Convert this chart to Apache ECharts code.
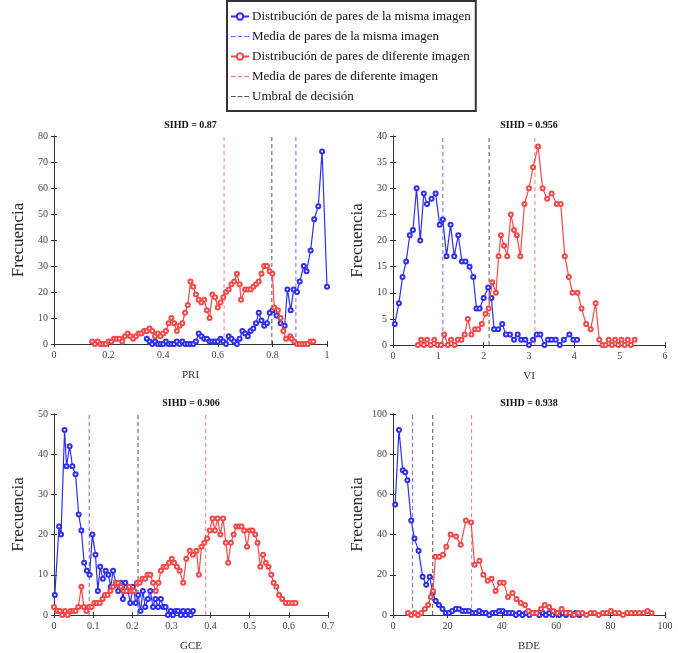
<!DOCTYPE html>
<html>
<head>
<meta charset="utf-8">
<script src="https://cdn.jsdelivr.net/npm/echarts@6/dist/echarts.min.js"></script>
<style>html,body{margin:0;padding:0;background:#fff;}#c{width:678px;height:653px;}</style>
</head>
<body>
<div id="c"></div>
<script>
// ---------- DATA ----------
const seriesNames = ['Distribución de pares de la misma imagen','Media de pares de la misma imagen','Distribución de pares de diferente imagen','Media de pares de diferente imagen','Umbral de decisión'];
const plotTitles = ['SIHD = 0.87','SIHD = 0.956','SIHD = 0.906','SIHD = 0.938'];
const xNames = ['PRI','VI','GCE','BDE'];

const priXTicks = [0,0.2,0.4,0.6,0.8,1];
const priYTicks = [0,10,20,30,40,50,60,70,80];
const viXTicks = [0,1,2,3,4,5,6];
const viYTicks = [0,5,10,15,20,25,30,35,40];
const gceXTicks = [0,0.1,0.2,0.3,0.4,0.5,0.6,0.7];
const gceYTicks = [0,10,20,30,40,50];
const bdeXTicks = [0,20,40,60,80,100];
const bdeYTicks = [0,20,40,60,80,100];

// means & thresholds [same mean, diff mean, threshold]
const priLines = [0.886, 0.623, 0.798];
const viLines = [1.10, 3.13, 2.12];
const gceLines = [0.090, 0.3875, 0.2146];
const bdeLines = [7.2, 28.9, 14.6];

const priSame = [[0.34,2],[0.35,1],[0.36,0],[0.37,1],[0.38,0],[0.39,0],[0.40,0],[0.41,1],[0.42,0],[0.43,0],[0.44,0],[0.45,1],[0.46,0],[0.47,1],[0.48,0],[0.49,0],[0.50,0],[0.51,0],[0.52,1],[0.53,4],[0.54,3],[0.55,2],[0.56,2],[0.57,1],[0.58,1],[0.59,1],[0.60,1],[0.61,2],[0.62,1],[0.63,0],[0.64,3],[0.65,2],[0.66,1],[0.67,0],[0.68,2],[0.69,5],[0.70,4],[0.71,3],[0.72,5],[0.73,6],[0.74,8],[0.75,12],[0.76,9],[0.77,7],[0.78,8],[0.79,12],[0.80,13],[0.815,11],[0.83,8],[0.845,7],[0.855,21],[0.867,13],[0.878,21],[0.89,20],[0.90,24],[0.915,30],[0.925,28],[0.94,36],[0.953,48],[0.968,53],[0.982,74],[1.0,22]];
const priDiff = [[0.14,1],[0.15,0],[0.16,1],[0.17,0],[0.18,0],[0.19,0],[0.20,1],[0.21,1],[0.22,2],[0.23,2],[0.24,2],[0.25,1],[0.26,3],[0.27,4],[0.28,3],[0.29,2],[0.30,3],[0.31,4],[0.32,4],[0.33,5],[0.34,5],[0.35,6],[0.36,5],[0.37,3],[0.38,4],[0.39,3],[0.40,4],[0.41,5],[0.42,8],[0.43,10],[0.44,8],[0.45,5],[0.46,7],[0.47,8],[0.48,12],[0.49,15],[0.50,24],[0.51,22],[0.52,19],[0.53,17],[0.54,16],[0.55,17],[0.56,13],[0.57,10],[0.58,19],[0.59,18],[0.60,14],[0.61,16],[0.62,18],[0.63,20],[0.64,21],[0.65,23],[0.66,24],[0.67,27],[0.68,23],[0.685,17],[0.70,21],[0.71,21],[0.72,21],[0.73,22],[0.74,23],[0.75,24],[0.76,27],[0.77,30],[0.78,30],[0.79,28],[0.80,27],[0.807,14],[0.82,13],[0.83,10],[0.84,5],[0.85,2],[0.865,3],[0.87,2],[0.88,1],[0.89,0],[0.90,0],[0.91,0],[0.92,0],[0.93,0],[0.94,1],[0.95,1]];

const viSame = [[0.04,4],[0.13,8],[0.21,13],[0.29,16],[0.37,21],[0.44,22],[0.52,30],[0.60,20],[0.68,29],[0.75,27],[0.85,28],[0.94,29],[1.03,23],[1.10,24],[1.18,17],[1.27,23],[1.35,17],[1.44,21],[1.52,16],[1.60,16],[1.69,15],[1.77,13],[1.84,7],[1.91,7],[2.0,9],[2.10,11],[2.17,9],[2.23,3],[2.32,3],[2.41,4],[2.49,2],[2.58,2],[2.67,1],[2.75,2],[2.83,1],[2.92,1],[3.0,0],[3.09,1],[3.17,2],[3.25,2],[3.34,0],[3.42,1],[3.5,1],[3.59,1],[3.68,0],[3.77,1],[3.89,2],[3.98,1],[4.06,1]];
const viDiff = [[0.55,0],[0.62,1],[0.68,0],[0.75,1],[0.83,0],[0.91,1],[0.98,0],[1.06,0],[1.13,2],[1.21,0],[1.28,1],[1.36,0],[1.43,1],[1.51,1],[1.58,2],[1.65,5],[1.73,2],[1.81,3],[1.88,3],[1.96,4],[2.04,6],[2.11,7],[2.19,12],[2.27,10],[2.33,17],[2.38,21],[2.45,19],[2.52,17],[2.60,25],[2.67,22],[2.73,21],[2.81,17],[2.90,27],[3.0,30],[3.09,34],[3.20,38],[3.30,30],[3.40,28],[3.50,29],[3.61,27],[3.70,27],[3.79,17],[3.88,13],[3.96,10],[4.07,10],[4.16,7],[4.26,4],[4.36,3],[4.47,8],[4.55,1],[4.62,0],[4.69,0],[4.76,1],[4.83,0],[4.90,1],[4.97,0],[5.04,1],[5.11,0],[5.18,1],[5.25,0],[5.33,1]];

const gceSame = [[0.002,5],[0.013,22],[0.018,20],[0.027,46],[0.032,37],[0.040,42],[0.047,37],[0.055,35],[0.063,25],[0.070,21],[0.077,13],[0.084,11],[0.091,10],[0.098,20],[0.106,15],[0.112,6],[0.118,12],[0.125,9],[0.132,11],[0.139,10],[0.145,7],[0.151,11],[0.158,8],[0.164,6],[0.170,8],[0.176,4],[0.182,8],[0.189,6],[0.195,3],[0.202,7],[0.209,3],[0.215,5],[0.221,1],[0.227,6],[0.233,2],[0.240,4],[0.246,6],[0.253,2],[0.259,4],[0.266,2],[0.273,4],[0.279,2],[0.285,2],[0.291,0],[0.298,1],[0.304,0],[0.311,1],[0.317,1],[0.324,0],[0.330,1],[0.336,0],[0.342,1],[0.349,0],[0.355,1]];
const gceDiff = [[0.0,2],[0.008,1],[0.015,1],[0.021,0],[0.028,1],[0.035,0],[0.042,1],[0.049,1],[0.055,1],[0.062,2],[0.070,7],[0.076,2],[0.083,1],[0.089,2],[0.096,2],[0.103,3],[0.110,3],[0.117,3],[0.124,4],[0.130,5],[0.137,5],[0.144,6],[0.151,7],[0.158,8],[0.164,8],[0.171,7],[0.178,6],[0.185,6],[0.192,7],[0.198,6],[0.205,6],[0.212,8],[0.219,8],[0.226,9],[0.233,9],[0.239,10],[0.246,10],[0.253,8],[0.260,6],[0.267,8],[0.273,11],[0.280,12],[0.287,12],[0.294,13],[0.301,14],[0.307,13],[0.314,12],[0.321,11],[0.330,8],[0.338,14],[0.347,16],[0.355,15],[0.364,16],[0.370,10],[0.377,17],[0.384,18],[0.391,19],[0.398,21],[0.405,24],[0.411,21],[0.418,24],[0.425,20],[0.432,24],[0.439,18],[0.445,13],[0.452,18],[0.459,20],[0.466,22],[0.473,22],[0.479,22],[0.486,21],[0.493,17],[0.500,21],[0.507,21],[0.514,20],[0.520,18],[0.527,12],[0.534,15],[0.541,13],[0.548,12],[0.555,10],[0.561,8],[0.568,7],[0.575,5],[0.583,4],[0.592,3],[0.600,3],[0.609,3],[0.617,3]];

const bdeSame = [[0.8,55],[2.2,92],[3.6,72],[4.5,71],[5.3,67],[6.7,47],[7.9,38],[9.4,32],[10.9,19],[12.2,15],[13.5,19],[14.6,11],[15.7,7],[16.9,5],[18.2,3],[19.4,1],[20.6,1],[21.8,2],[23.1,3],[24.3,3],[25.5,2],[26.7,2],[28.0,2],[29.2,1],[30.4,1],[31.7,2],[32.9,1],[34.1,1],[35.4,0],[36.6,1],[37.8,1],[39.0,2],[40.3,2],[41.5,1],[42.7,1],[44.0,1],[45.2,0],[46.4,1],[47.6,0],[48.9,1],[50.1,0],[51.3,1],[52.5,1],[53.8,0],[55.0,1],[56.2,0],[57.4,1],[58.7,0],[59.9,1],[61.1,0],[62.3,1],[63.6,0],[64.8,1],[66.0,0],[67.2,1],[68.5,0]];
const bdeDiff = [[5.5,1],[6.7,0],[8.0,1],[9.2,0],[10.4,1],[11.7,3],[12.9,5],[13.9,9],[14.7,12],[15.6,29],[17.0,29],[18.4,30],[19.6,34],[21.2,40],[23.2,39],[24.9,35],[26.8,47],[28.7,46],[30.0,25],[31.8,27],[33.2,20],[34.8,17],[36.2,18],[37.7,12],[39.3,16],[40.7,16],[42.3,9],[43.9,11],[45.4,8],[47.0,6],[48.5,5],[49.8,2],[51.3,1],[52.8,1],[54.4,3],[55.8,5],[57.4,4],[58.9,2],[60.4,1],[62.0,3],[63.6,1],[65.1,1],[66.6,0],[68.1,1],[69.6,1],[71.1,0],[72.6,1],[74.1,1],[75.6,0],[77.1,1],[78.6,1],[80.1,2],[81.6,1],[83.1,1],[84.6,0],[86.1,1],[87.6,1],[89.1,1],[90.6,1],[92.1,1],[93.6,2],[95.1,1]];

// ---------- LAYOUT / STYLE ----------
const FONT = '"Liberation Serif","DejaVu Serif",serif';
const BLUE = '#2e2ef0', RED = '#f24848', BLUE_D = '#6a6af5', RED_D = '#f27a7a', BLACK_D = '#555555';
const DASH_ICON = 'path://M0,0h5v1h-5z M7,0h5v1h-5z M14,0h5v1h-5z';
const grids = [
  {left:54, top:136, width:273, height:208},
  {left:393, top:136, width:272, height:209},
  {left:54, top:414, width:274, height:209},
  {left:393, top:414, width:272, height:208}
];
const plots = [
  {x:priXTicks, y:priYTicks, same:priSame, diff:priDiff, lines:priLines},
  {x:viXTicks, y:viYTicks, same:viSame, diff:viDiff, lines:viLines},
  {x:gceXTicks, y:gceYTicks, same:gceSame, diff:gceDiff, lines:gceLines},
  {x:bdeXTicks, y:bdeYTicks, same:bdeSame, diff:bdeDiff, lines:bdeLines}
];

const xAxis = [], yAxis = [], series = [], graphic = [];
plots.forEach((p, i) => {
  const xmin = p.x[0], xmax = p.x[p.x.length-1], xint = p.x[1]-p.x[0];
  const ymin = p.y[0], ymax = p.y[p.y.length-1], yint = p.y[1]-p.y[0];
  const axLine = {show:true, lineStyle:{color:'#333', width:1}};
  const tick = {show:true, inside:true, length:3, lineStyle:{color:'#333'}};
  const lab = {show:true, fontFamily:FONT, fontSize:10, color:'#444', margin:6,
    formatter: v => String(+v.toFixed(4))};
  xAxis.push({type:'value', gridIndex:i, min:xmin, max:xmax, interval:xint, position:'bottom',
    axisLine:axLine, axisTick:tick, axisLabel:lab, splitLine:{show:false},
    name:xNames[i], nameLocation:'middle', nameGap:26, nameTextStyle:{fontFamily:FONT, fontSize:11, color:'#333'}});
  xAxis.push({type:'value', gridIndex:i, min:xmin, max:xmax, interval:xint, position:'top',
    axisLine:axLine, axisTick:tick, axisLabel:{show:false}, splitLine:{show:false}});
  yAxis.push({type:'value', gridIndex:i, min:ymin, max:ymax, interval:yint, position:'left',
    axisLine:axLine, axisTick:tick, axisLabel:lab, splitLine:{show:false},
    name:'Frecuencia', nameLocation:'middle', nameGap:27, nameRotate:90,
    nameTextStyle:{fontFamily:FONT, fontSize:17, color:'#222'}});
  yAxis.push({type:'value', gridIndex:i, min:ymin, max:ymax, interval:yint, position:'right',
    axisLine:axLine, axisTick:tick, axisLabel:{show:false}, splitLine:{show:false}});
  const xi = 2*i, yi = 2*i;
  const vline = (name, v, color) => ({
    name, type:'line', xAxisIndex:xi, yAxisIndex:yi, data:[[v,ymin],[v,ymax]],
    symbol:'none', legendIcon:DASH_ICON, itemStyle:{color},
    lineStyle:{color, width:1, type:[4,3]}, silent:true, animation:false, z:3
  });
  series.push({name:seriesNames[0], type:'line', xAxisIndex:xi, yAxisIndex:yi, data:p.same,
    symbol:'emptyCircle', symbolSize:4, showSymbol:true,
    lineStyle:{color:BLUE, width:1.2}, itemStyle:{color:BLUE, borderColor:BLUE, borderWidth:1.2}, animation:false, z:4});
  series.push(vline(seriesNames[1], p.lines[0], BLUE_D));
  series.push({name:seriesNames[2], type:'line', xAxisIndex:xi, yAxisIndex:yi, data:p.diff,
    symbol:'emptyCircle', symbolSize:4, showSymbol:true,
    lineStyle:{color:RED, width:1.2}, itemStyle:{color:RED, borderColor:RED, borderWidth:1.2}, animation:false, z:5});
  series.push(vline(seriesNames[3], p.lines[1], RED_D));
  series.push(vline(seriesNames[4], p.lines[2], BLACK_D));
  const g = grids[i];
  graphic.push({type:'text', x:g.left + g.width/2, y:g.top - 11,
    style:{text:plotTitles[i], font:'bold 10px ' + FONT, fill:'#111', textAlign:'center', textVerticalAlign:'middle'}});
});

const chart = echarts.init(document.getElementById('c'), null, {renderer:'canvas'});
chart.setOption({
  backgroundColor:'#fff',
  animation:false,
  grid: grids.map(g => Object.assign({containLabel:false}, g)),
  xAxis, yAxis, series, graphic,
  legend:{
    data: [
      {name:seriesNames[0]},
      {name:seriesNames[1], icon:DASH_ICON, itemStyle:{color:BLUE_D}},
      {name:seriesNames[2]},
      {name:seriesNames[3], icon:DASH_ICON, itemStyle:{color:RED_D}},
      {name:seriesNames[4], icon:DASH_ICON, itemStyle:{color:BLACK_D}}
    ],
    orient:'vertical', left:227, top:1,
    itemGap:7, itemWidth:18, itemHeight:8,
    padding:[9,5,8,3],
    borderColor:'#333', borderWidth:2,
    textStyle:{fontFamily:FONT, fontSize:13, color:'#111', padding:[0,0,0,-2]},
    selectedMode:false
  }
});
</script>
</body>
</html>
